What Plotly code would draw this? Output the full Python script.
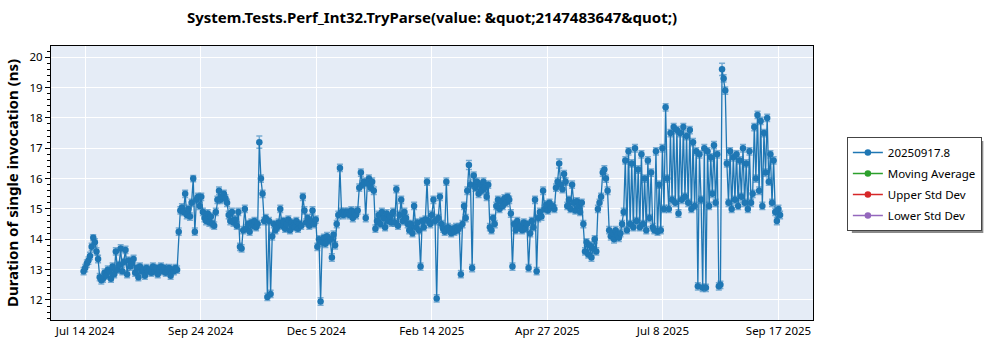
import pandas as pd
import plotly.graph_objects as go

TITLE = "System.Tests.Perf_Int32.TryParse(value: &quot;2147483647&quot;)"
Y_TITLE = "Duration of single invocation (ns)"
SERIES_NAMES = ["20250917.8", "Moving Average", "Upper Std Dev", "Lower Std Dev"]
SERIES_COLORS = ["#1f77b4", "#2ca02c", "#d62728", "#9467bd"]
TICK_LABELS = ["Jul 14 2024", "Sep 24 2024", "Dec 5 2024", "Feb 14 2025",
               "Apr 27 2025", "Jul 8 2025", "Sep 17 2025"]
TICK_FIRST = "2024-07-14"
TICK_LAST = "2025-09-17"
X_RANGE = ["2024-06-22 19:00", "2025-10-08 10:00"]
Y_RANGE = [11.34, 20.37]

START_DATE = "2024-07-13"
values = [
    12.95, 13.05, 13.2, 13.3, 13.45, 13.75, 14.05, 13.9, 13.6, 13.35,
    12.75, 12.65, 12.7, 12.9, 12.8, 13.0, 12.95, 12.7, 13.1, 12.85,
    13.6, 13.0, 13.15, 13.7, 12.95, 13.25, 13.65, 12.85, 13.3, 13.1,
    13.2, 13.35, 12.9, 13.05, 12.75, 13.1, 12.95, 13.0, 12.8, 13.05, 12.95,
    13.0, 12.9, 13.1, 12.95, 13.05, 12.85, 13.0, 13.1, 12.95, 13.05,
    12.9, 13.0, 13.05, 12.8, 13.0, 12.95, 13.05, 13.0,
    14.25, 14.95, 15.05, 14.9, 15.5, 14.8, 15.0, 14.75, 15.2, 16.0,
    14.25, 15.3, 15.4, 15.1, 15.4, 14.9, 14.7, 14.6, 14.85, 14.55,
    14.75, 14.5, 14.45, 14.9, 15.3, 15.6, 15.3, 15.4, 15.5, 15.35, 15.2,
    14.8, 14.6, 14.9, 14.55, 14.65, 14.45, 14.9, 13.75, 13.7, 14.3,
    15.0, 14.35, 14.5, 14.25, 14.55, 14.45, 14.6, 14.4, 14.5, 17.2,
    16.0, 15.5, 14.6, 14.7, 12.1, 14.6, 12.2, 14.1, 14.5, 14.3,
    14.4, 14.55, 15.0, 14.45, 14.6, 14.35, 14.5, 14.65, 14.3, 14.55, 14.45,
    14.4, 14.6, 14.35, 14.5, 14.45, 15.4, 14.95, 14.55, 14.7, 14.45,
    14.6, 14.95, 14.5, 14.65, 13.75, 14.0, 11.95, 13.9, 14.05, 13.85,
    14.1, 13.95, 14.0, 13.4, 14.15, 13.8, 14.5, 14.8, 16.35, 14.9,
    14.8, 14.9, 14.85, 14.9, 14.8, 14.95, 14.7, 14.9, 14.8, 14.95,
    15.7, 16.2, 15.8, 15.9, 14.7, 15.85, 16.0, 15.7, 15.9, 15.6,
    14.35, 14.6, 14.8, 14.5, 14.9, 14.7, 14.4, 14.85, 14.6, 14.75, 14.55,
    14.9, 14.55, 15.65, 14.45, 14.8, 15.3, 14.6, 14.9, 14.7, 14.5,
    14.3, 14.5, 14.2, 15.1, 14.4, 14.55, 14.3, 13.1, 14.6, 14.4,
    14.65, 15.9, 14.6, 14.5, 14.8, 15.3, 14.6, 12.05, 14.7, 15.4,
    14.5, 14.35, 14.25, 15.9, 14.4, 14.3, 14.2, 14.35, 14.25, 14.4,
    14.3, 14.4, 12.85, 14.5, 15.1, 14.7, 15.6, 16.45, 15.8, 13.05,
    16.1, 15.7, 15.9, 15.5, 15.8, 15.6, 15.9, 15.7, 15.4, 15.8,
    14.4, 14.3, 14.7, 14.5, 15.1, 15.3, 15.0, 15.25, 15.1, 15.35,
    15.2, 15.4, 15.3, 14.85, 13.1, 14.5, 14.3, 14.6, 14.4, 14.45,
    14.3, 14.55, 14.35, 14.5, 13.05, 14.2, 14.6, 14.4, 15.3, 12.95,
    14.7, 14.9, 14.75, 15.6, 15.0, 15.15, 14.95, 15.2, 15.05, 15.1, 15.0,
    15.7, 15.9, 16.5, 15.8, 15.65, 16.15, 15.9, 15.1, 15.3, 15.0,
    15.8, 15.2, 14.95, 15.25, 15.1, 14.9, 15.2, 14.5, 13.6, 13.9,
    13.5, 13.8, 13.4, 13.7, 14.0, 13.6, 15.0, 15.2, 15.4, 16.2,
    16.3, 16.0, 15.6, 14.3, 14.1, 14.2, 14.0, 14.3, 14.15, 14.05,
    14.2, 14.5, 14.9, 16.6, 14.3, 16.9, 14.5, 16.5, 14.4, 17.0,
    14.6, 16.3, 14.4, 16.8, 14.5, 16.0, 14.3, 16.6, 14.7, 16.2, 14.4,
    14.3, 16.9, 14.25, 15.8, 14.3, 17.0, 15.0, 18.35, 16.0, 15.0,
    17.5, 15.3, 17.7, 15.2, 17.6, 14.85, 17.5, 15.3, 17.7, 15.4,
    17.4, 15.2, 17.6, 15.0, 17.2, 15.1, 16.9, 12.45, 16.8, 15.3,
    12.4, 17.0, 12.4, 16.9, 15.1, 16.7, 15.5, 17.1, 15.2, 16.8,
    12.45, 12.5, 19.6, 19.3, 18.9, 16.5, 15.2, 16.9, 15.0, 16.7,
    15.3, 16.8, 15.1, 16.6, 15.4, 17.0, 15.2, 16.5, 15.0, 16.9, 15.2,
    15.5, 17.7, 16.0, 18.1, 15.6, 17.9, 15.1, 17.5, 16.2, 18.0,
    15.9, 16.8, 15.2, 16.6, 14.9, 14.6, 15.0, 14.8,
]
ERR_DEFAULT = 0.12
ERR_OVERRIDES = {6: 0.1, 68: 0.1, 109: 0.2, 136: 0.12, 239: 0.15,
                 295: 0.15, 361: 0.12, 396: 0.2, 323: 0.12}

dates = pd.date_range(START_DATE, periods=len(values), freq="D")
errors = [ERR_OVERRIDES.get(i, ERR_DEFAULT) for i in range(len(values))]

FONT = "Noto Sans"

fig = go.Figure()
fig.add_trace(go.Scatter(
    x=dates, y=values, mode="lines+markers", name=SERIES_NAMES[0],
    line=dict(color=SERIES_COLORS[0], width=1.3),
    marker=dict(color=SERIES_COLORS[0], size=6.5),
    error_y=dict(type="data", array=errors, visible=True,
                 color="rgba(31,119,180,0.55)", thickness=1.5, width=3),
    legendgroup="a",
))
for name, color, grp in zip(SERIES_NAMES[1:], SERIES_COLORS[1:], ["b", "c", "d"]):
    fig.add_trace(go.Scatter(
        x=[None], y=[None], mode="lines+markers", name=name,
        line=dict(color=color, width=1.5), marker=dict(color=color, size=6.5),
        legendgroup=grp,
    ))

t0 = pd.Timestamp(TICK_FIRST)
t1 = pd.Timestamp(TICK_LAST)
n = len(TICK_LABELS)
tickvals = [t0 + (t1 - t0) * k / (n - 1) for k in range(n)]

PW, PL, PT, PH = 765, 48, 46, 274


def px_x(p):
    return (p - PL) / PW


def px_y(p):
    return (PT + PH - p) / PH


fig.add_shape(type="rect", xref="paper", yref="paper",
              x0=px_x(852), x1=px_x(984), y0=px_y(233), y1=px_y(141),
              fillcolor="#8a8a8a", line=dict(width=0), layer="above")

fig.update_layout(
    width=1000, height=350,
    margin=dict(l=PL, r=1000 - PL - PW, t=PT, b=350 - PT - PH),
    paper_bgcolor="white", plot_bgcolor="#E5ECF6",
    font=dict(family=FONT, size=12, color="black"),
    title=dict(text=TITLE, x=0.5, xref="paper", y=1 - 18 / 350, yref="container",
               xanchor="center", yanchor="middle",
               font=dict(family=FONT, size=15, color="black", weight="bold")),
    showlegend=True,
    legend=dict(x=px_x(847), y=px_y(137), xanchor="left", yanchor="top",
                bgcolor="white", bordercolor="#444", borderwidth=1,
                font=dict(family=FONT, size=11.5, color="black"),
                traceorder="grouped", tracegroupgap=2),
    xaxis=dict(type="date", range=X_RANGE, tickvals=tickvals, ticktext=TICK_LABELS,
               showgrid=True, gridcolor="white", gridwidth=1,
               showline=True, linecolor="black", linewidth=1, mirror=True,
               ticks="", zeroline=False, tickfont=dict(size=11.5)),
    yaxis=dict(range=Y_RANGE, tick0=12, dtick=1, showgrid=True, gridcolor="white",
               showline=True, linecolor="black", linewidth=1, mirror=True,
               ticks="outside", ticklen=5, tickcolor="black", zeroline=False,
               minor=dict(ticks="outside", ticklen=3, dtick=0.2, tickcolor="black",
                          showgrid=False),
               tickfont=dict(size=11.5),
               title=dict(text=Y_TITLE, standoff=7,
                          font=dict(family=FONT, size=15, color="black", weight="bold"))),
)

fig.write_html("out.html")
